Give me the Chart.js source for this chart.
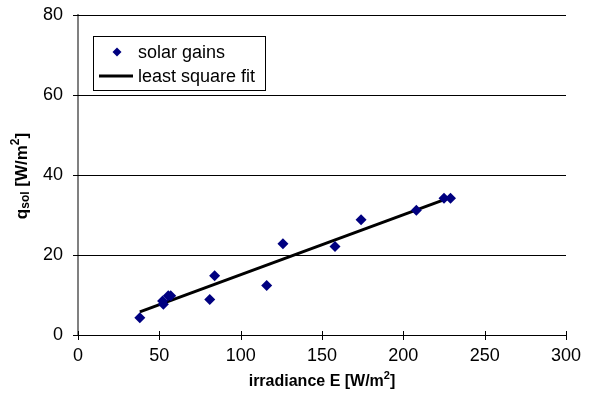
<!DOCTYPE html>
<html><head><meta charset="utf-8">
<script src="https://cdn.jsdelivr.net/npm/chart.js@4.4.1/dist/chart.umd.min.js"></script>
<style>html,body{margin:0;padding:0;background:#fff;}#wrap{width:597px;height:397px;}</style>
</head><body><div id="wrap"><canvas id="c" width="597" height="397"></canvas></div>
<script>
const irradiance = [38, 52, 52.5, 55.5, 57, 81, 84, 116, 126, 158, 174, 208, 225, 229];
const solarGains = [4.3, 8.5, 7.7, 9.8, 9.8, 8.9, 14.8, 12.4, 22.8, 22.1, 28.8, 31.2, 34.2, 34.2];
const fitX = [38, 229];
const fitY = [5.8, 34.4];
const xTicks = [0, 50, 100, 150, 200, 250, 300];
const yTicks = [0, 20, 40, 60, 80];
const seriesNames = ['solar gains', 'least square fit'];

const FONT = 'Arial, "Liberation Sans", sans-serif';

function drawRich(ctx, parts, x, y) {
  let total = 0;
  parts.forEach(p => { ctx.font = 'bold ' + p[1] + 'px ' + FONT; total += ctx.measureText(p[0]).width; });
  let cx = x - total / 2;
  parts.forEach(p => {
    ctx.font = 'bold ' + p[1] + 'px ' + FONT;
    ctx.fillText(p[0], cx, y + p[2]);
    cx += ctx.measureText(p[0]).width;
  });
}

const extras = {
  id: 'extras',
  afterDraw(chart) {
    const ctx = chart.ctx;
    const xs = chart.scales.x, ys = chart.scales.y;
    const a = chart.chartArea;
    ctx.save();
    ctx.strokeStyle = '#000'; ctx.lineWidth = 1;
    xTicks.forEach(v => {
      const px = Math.round(xs.getPixelForValue(v)) + 0.5;
      ctx.beginPath(); ctx.moveTo(px, a.bottom - 4); ctx.lineTo(px, a.bottom + 5); ctx.stroke();
    });
    yTicks.forEach(v => {
      const py = Math.round(ys.getPixelForValue(v)) + 0.5;
      ctx.beginPath(); ctx.moveTo(a.left - 5, py); ctx.lineTo(a.left + 4, py); ctx.stroke();
    });
    // legend
    const lx = 93, ly = 36, lw = 172, lh = 54;
    ctx.fillStyle = '#fff';
    ctx.fillRect(lx, ly, lw, lh);
    ctx.strokeStyle = '#000'; ctx.lineWidth = 1;
    ctx.strokeRect(lx + 0.5, ly + 0.5, lw, lh);
    ctx.fillStyle = '#000080';
    ctx.beginPath();
    const dx = 117, dy = 52;
    ctx.moveTo(dx, dy - 4.5); ctx.lineTo(dx + 4.5, dy); ctx.lineTo(dx, dy + 4.5); ctx.lineTo(dx - 4.5, dy); ctx.closePath(); ctx.fill();
    ctx.strokeStyle = '#000'; ctx.lineWidth = 3;
    ctx.beginPath(); ctx.moveTo(99, 76); ctx.lineTo(133, 76); ctx.stroke();
    ctx.fillStyle = '#000';
    ctx.font = '18px ' + FONT;
    ctx.textBaseline = 'middle'; ctx.textAlign = 'left';
    ctx.fillText(seriesNames[0], 138, 53);
    ctx.fillText(seriesNames[1], 138, 77);
    // x title
    const xc = (a.left + a.right) / 2;
    drawRich(ctx, [['irradiance E [W/m', 16, 0], ['2', 11, -6], [']', 16, 0]], xc, 382);
    // y title
    ctx.translate(22, (a.top + a.bottom) / 2 + 1);
    ctx.rotate(-Math.PI / 2);
    drawRich(ctx, [['q', 17, 0], ['sol', 12, 4], [' [W/m', 17, 0], ['2', 12, -6], [']', 17, 0]], 0, 0);
    ctx.restore();
  }
};

new Chart(document.getElementById('c'), {
  type: 'scatter',
  data: {
    datasets: [
      {
        label: seriesNames[0],
        data: irradiance.map((x, i) => ({ x: x, y: solarGains[i] })),
        pointStyle: 'rectRot', pointRadius: 5.5, pointHoverRadius: 5.5,
        backgroundColor: '#000080', borderColor: '#000080', borderWidth: 0
      },
      {
        label: seriesNames[1],
        data: fitX.map((x, i) => ({ x: x, y: fitY[i] })),
        showLine: true, pointRadius: 0, borderColor: '#000', borderWidth: 3,
        backgroundColor: '#000'
      }
    ]
  },
  options: {
    responsive: false, animation: false, devicePixelRatio: 1,
    layout: { padding: { top: 15, right: 31, left: 0, bottom: 0 } },
    plugins: { legend: { display: false }, tooltip: { enabled: false } },
    scales: {
      x: {
        type: 'linear', min: 0, max: 300,
        afterFit: s => { s.height = 62; s.paddingLeft = 0; s.paddingRight = 0; },
        afterBuildTicks: s => { s.ticks = xTicks.map(v => ({ value: v })); },
        ticks: { font: { family: FONT, size: 18 }, color: '#000', padding: 10, maxRotation: 0 },
        grid: { display: false, drawTicks: false },
        border: { display: true, color: '#000', width: 1 }
      },
      y: {
        min: 0, max: 80,
        afterFit: s => { s.width = 78; s.paddingTop = 0; s.paddingBottom = 0; },
        afterBuildTicks: s => { s.ticks = yTicks.map(v => ({ value: v })); },
        ticks: { font: { family: FONT, size: 18 }, color: '#000', padding: 15 },
        grid: { display: true, drawTicks: false, color: '#000', lineWidth: 1 },
        border: { display: true, color: '#808080', width: 2 }
      }
    }
  },
  plugins: [extras]
});
</script></body></html>
